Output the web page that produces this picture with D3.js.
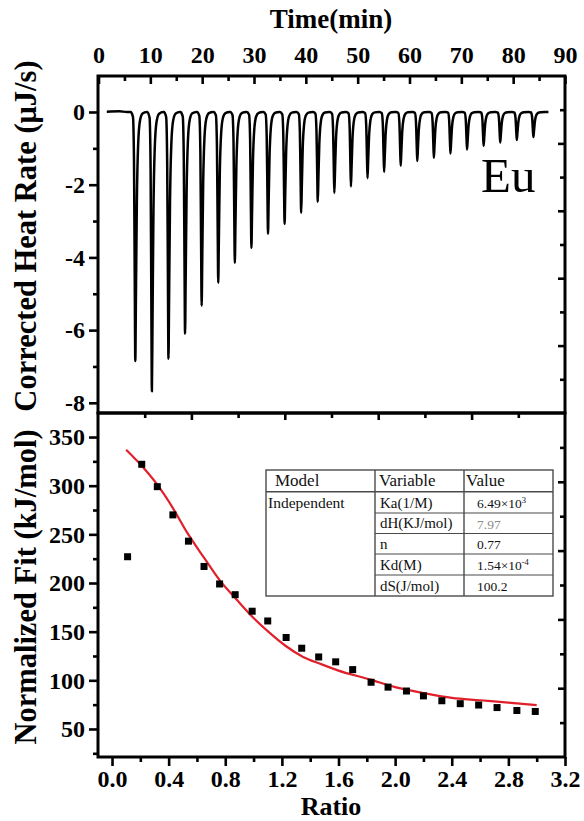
<!DOCTYPE html>
<html>
<head>
<meta charset="utf-8">
<script src="https://cdn.jsdelivr.net/npm/d3@7"></script>
<style>
  body { margin: 0; background: #fff; }
  svg text { font-family: "Liberation Serif", "Times New Roman", serif; }
</style>
</head>
<body>
<svg id="chart" width="584" height="821"></svg>
<script>
// ---- Raw thermogram: injection times (min) and peak heat rates (µJ/s) ----
const injectionTimes = [7.1, 10.3, 13.5, 16.7, 19.9, 23.1, 26.3, 29.5, 32.7, 35.9,
                        39.1, 42.3, 45.5, 48.7, 51.9, 55.1, 58.3, 61.5, 64.7, 67.9,
                        71.1, 74.3, 77.5, 80.7, 83.9];
const peakHeatRates = [-6.85, -7.68, -6.79, -6.10, -5.33, -4.70, -4.15, -3.74, -3.35, -3.08,
                       -2.77, -2.47, -2.23, -2.05, -1.82, -1.65, -1.48, -1.35, -1.26, -1.14,
                       -1.03, -0.93, -0.84, -0.77, -0.69];
const traceStart = 1.6;
const traceEnd = 86.8;

// ---- Integrated heats vs molar ratio ----
const molarRatio = [0.11, 0.21, 0.32, 0.43, 0.54, 0.65, 0.76, 0.87, 0.99, 1.10,
                    1.23, 1.34, 1.46, 1.58, 1.70, 1.83, 1.95, 2.08, 2.20, 2.33,
                    2.46, 2.59, 2.72, 2.86, 2.99];
const normalizedHeat = [227, 322, 299, 270, 243, 217, 199, 188, 171, 161,
                        144, 133, 124, 119, 111, 98, 93, 89, 84, 79,
                        76, 74.6, 72, 69, 68];

// ---- Fitted curve (independent sites model) ----
const fitRatio = [0.10, 0.20, 0.32, 0.43, 0.53, 0.65, 0.76, 0.88, 1.00, 1.12,
                  1.23, 1.35, 1.47, 1.60, 1.82, 2.00, 2.20, 2.40, 2.60, 2.80, 3.00];
const fitHeat = [337, 322, 301, 277, 252, 226, 203, 183, 164, 148,
                 135, 124, 117, 110, 101, 93, 87, 82, 79.5, 77, 74.6];

// ---- Tick values ----
const timeTicks = [0, 10, 20, 30, 40, 50, 60, 70, 80, 90];
const timeMinorTicks = [5, 15, 25, 35, 45, 55, 65, 75, 85];
const heatRateTicks = [-8, -6, -4, -2, 0];
const heatRateMinorTicks = [-7, -5, -3, -1];
const heatTicks = [50, 100, 150, 200, 250, 300, 350];
const heatMinorTicks = [25, 75, 125, 175, 225, 275, 325];
const ratioTicks = [0.0, 0.4, 0.8, 1.2, 1.6, 2.0, 2.4, 2.8, 3.2];
const ratioMinorTicks = [0.2, 0.6, 1.0, 1.4, 1.8, 2.2, 2.6, 3.0];

// ---- Fit results table ----
const tableHeader = ["Model", "Variable", "Value"];
const modelName = "Independent";
const fitVariables = ["Ka(1/M)", "dH(KJ/mol)", "n", "Kd(M)", "dS(J/mol)"];
const fitValueText = ["6.49×10", "7.97", "0.77", "1.54×10", "100.2"];
const fitValueExp = ["3", "", "", "-4", ""];
const fitValueColor = ["#111", "#8a8a8a", "#111", "#111", "#111"];

// ---- Layout ----
const svg = d3.select("#chart");
const L = 98, R = 565;
const T1 = 76, B1 = 413;   // upper panel
const T2 = 413, B2 = 757;  // lower panel

const xTime = d3.scaleLinear().domain([0, 90]).range([98.5, 565]);
const yRate = d3.scaleLinear().domain([-8.28, 0.99]).range([B1, T1]);
const xRatio = d3.scaleLinear().domain([-0.099, 3.2]).range([L, R]);
const yHeat = d3.scaleLinear().domain([21.2, 374.7]).range([B2, T2]);
const divTop = d3.scaleLinear().domain([0, 10]).range([B1, T1]);
const divBot = d3.scaleLinear().domain([0, 10]).range([B2, T2]);
const divX = d3.scaleLinear().domain([0, 10]).range([L, R]);

const tickFont = 24;

function styleAxis(g) {
  g.select(".domain").remove();
  g.selectAll(".tick line").attr("stroke", "#000").attr("stroke-width", 2.6);
  g.selectAll(".tick text")
    .attr("fill", "#000")
    .style("font-size", tickFont + "px")
    .style("font-weight", "bold");
}

// ---- Upper panel: thermogram ----
// Each injection: a sharp dip followed by a quick return to the baseline
const dipShape = [[-0.9, 0], [-0.45, 0.02], [-0.25, 0.2], [-0.1, 0.7], [0, 1],
                  [0.12, 0.75], [0.3, 0.36], [0.55, 0.13], [0.9, 0.035], [1.4, 0.006], [2.2, 0]];
const tracePts = [[traceStart, 0.01], [4.0, 0.02], [5.5, 0.0]];
injectionTimes.forEach((t, i) => {
  dipShape.forEach(([dt, f]) => tracePts.push([t + dt, peakHeatRates[i] * f]));
});
tracePts.push([traceEnd, 0]);

svg.append("path")
  .datum(tracePts)
  .attr("fill", "none")
  .attr("stroke", "#000")
  .attr("stroke-width", 2.5)
  .attr("stroke-linejoin", "round")
  .attr("d", d3.line().x(d => xTime(d[0])).y(d => yRate(d[1])).curve(d3.curveMonotoneX));

svg.append("text")
  .attr("x", 481).attr("y", 192)
  .style("font-size", "49px")
  .attr("fill", "#000")
  .text("Eu");

// Left axis (outward ticks)
svg.append("g").attr("transform", `translate(${L},0)`)
  .call(d3.axisLeft(yRate).tickValues(heatRateTicks).tickSize(9).tickPadding(4).tickFormat(d => String(d)))
  .call(styleAxis);
svg.append("g").attr("transform", `translate(${L},0)`)
  .call(d3.axisLeft(yRate).tickValues(heatRateMinorTicks).tickSize(5).tickFormat(""))
  .call(styleAxis);

// Top time axis (inward ticks, labels above)
svg.append("g").attr("transform", `translate(0,${T1})`)
  .call(d3.axisTop(xTime).tickValues(timeTicks).tickSizeInner(-8).tickSizeOuter(0).tickPadding(13).tickFormat(d => String(d)))
  .call(styleAxis);
svg.append("g").attr("transform", `translate(0,${T1})`)
  .call(d3.axisTop(xTime).tickValues(timeMinorTicks).tickSizeInner(-5).tickSizeOuter(0).tickFormat(""))
  .call(styleAxis);

// Right edge divisions (inward)
svg.append("g").attr("transform", `translate(${R},0)`)
  .call(d3.axisLeft(divTop).tickValues([2, 4, 6, 8]).tickSize(7).tickFormat(""))
  .call(styleAxis);
svg.append("g").attr("transform", `translate(${R},0)`)
  .call(d3.axisLeft(divTop).tickValues([1, 3, 5, 7, 9]).tickSize(5).tickFormat(""))
  .call(styleAxis);

// ---- Lower panel: integrated heats ----
svg.append("path")
  .datum(fitRatio.map((r, i) => [r, fitHeat[i]]))
  .attr("fill", "none")
  .attr("stroke", "#e0202a")
  .attr("stroke-width", 2.2)
  .attr("d", d3.line().x(d => xRatio(d[0])).y(d => yHeat(d[1])).curve(d3.curveMonotoneX));

const sq = 7;
svg.append("g").selectAll("rect")
  .data(molarRatio.map((r, i) => [r, normalizedHeat[i]]))
  .join("rect")
  .attr("x", d => xRatio(d[0]) - sq / 2)
  .attr("y", d => yHeat(d[1]) - sq / 2)
  .attr("width", sq).attr("height", sq)
  .attr("fill", "#000");

// Left axis
svg.append("g").attr("transform", `translate(${L},0)`)
  .call(d3.axisLeft(yHeat).tickValues(heatTicks).tickSize(9).tickPadding(4).tickFormat(d => String(d)))
  .call(styleAxis);
svg.append("g").attr("transform", `translate(${L},0)`)
  .call(d3.axisLeft(yHeat).tickValues(heatMinorTicks).tickSize(5).tickFormat(""))
  .call(styleAxis);

// Bottom ratio axis
svg.append("g").attr("transform", `translate(0,${B2})`)
  .call(d3.axisBottom(xRatio).tickValues(ratioTicks).tickSize(9).tickPadding(4).tickFormat(d3.format(".1f")))
  .call(styleAxis);
svg.append("g").attr("transform", `translate(0,${B2})`)
  .call(d3.axisBottom(xRatio).tickValues(ratioMinorTicks).tickSize(5).tickFormat(""))
  .call(styleAxis);

// Inner top edge and right edge divisions
svg.append("g").attr("transform", `translate(0,${T2})`)
  .call(d3.axisTop(divX).tickValues([2, 4, 6, 8]).tickSizeInner(-7).tickSizeOuter(0).tickFormat(""))
  .call(styleAxis);
svg.append("g").attr("transform", `translate(0,${T2})`)
  .call(d3.axisTop(divX).tickValues([1, 3, 5, 7, 9]).tickSizeInner(-5).tickSizeOuter(0).tickFormat(""))
  .call(styleAxis);
svg.append("g").attr("transform", `translate(${R},0)`)
  .call(d3.axisLeft(divBot).tickValues([2, 4, 6, 8]).tickSize(7).tickFormat(""))
  .call(styleAxis);
svg.append("g").attr("transform", `translate(${R},0)`)
  .call(d3.axisLeft(divBot).tickValues([1, 3, 5, 7, 9]).tickSize(5).tickFormat(""))
  .call(styleAxis);

// ---- Frames ----
svg.append("rect").attr("x", L).attr("y", T1).attr("width", R - L).attr("height", B1 - T1)
  .attr("fill", "none").attr("stroke", "#000").attr("stroke-width", 3);
svg.append("rect").attr("x", L).attr("y", T2).attr("width", R - L).attr("height", B2 - T2)
  .attr("fill", "none").attr("stroke", "#000").attr("stroke-width", 3);

// ---- Fit results table ----
const tb = svg.append("g");
const tx = [266, 375, 464, 553];
const ty = [470, 491.7, 513, 533.5, 554, 575, 596];
const lineCol = "#4a4a4a";
tb.append("rect").attr("x", tx[0]).attr("y", ty[0]).attr("width", tx[3] - tx[0]).attr("height", ty[6] - ty[0])
  .attr("fill", "#fff").attr("stroke", lineCol).attr("stroke-width", 1.4);
tb.append("line").attr("x1", tx[0]).attr("x2", tx[3]).attr("y1", ty[1]).attr("y2", ty[1])
  .attr("stroke", lineCol).attr("stroke-width", 1.4);
[tx[1], tx[2]].forEach(x => tb.append("line").attr("x1", x).attr("x2", x).attr("y1", ty[0]).attr("y2", ty[6])
  .attr("stroke", lineCol).attr("stroke-width", 1.4));
[2, 3, 4, 5].forEach(k => tb.append("line").attr("x1", tx[1]).attr("x2", tx[3]).attr("y1", ty[k]).attr("y2", ty[k])
  .attr("stroke", lineCol).attr("stroke-width", 1.2));

const headX = [275, 379, 466];
tableHeader.forEach((h, i) => tb.append("text").attr("x", headX[i]).attr("y", ty[1] - 5.5)
  .style("font-size", "17px").attr("fill", "#111").text(h));
tb.append("text").attr("x", 268).attr("y", ty[2] - 5.5).style("font-size", "15.5px").attr("fill", "#111").text(modelName);
fitVariables.forEach((v, i) => tb.append("text").attr("x", 380).attr("y", ty[i + 2] - 5.5)
  .style("font-size", "15px").attr("fill", "#111").text(v));
fitValueText.forEach((v, i) => {
  const t = tb.append("text").attr("x", 477).attr("y", ty[i + 2] - 5)
    .style("font-size", "13.5px").attr("fill", fitValueColor[i]).text(v);
  if (fitValueExp[i]) {
    t.append("tspan").attr("dy", -5).style("font-size", "8.5px").text(fitValueExp[i]);
  }
});

// ---- Axis titles ----
svg.append("text")
  .attr("x", 331).attr("y", 28)
  .attr("text-anchor", "middle")
  .style("font-size", "27px").style("font-weight", "bold")
  .text("Time(min)");
svg.append("text")
  .attr("x", 331).attr("y", 815)
  .attr("text-anchor", "middle")
  .style("font-size", "26px").style("font-weight", "bold")
  .text("Ratio");
svg.append("text")
  .attr("transform", "translate(36,236) rotate(-90)")
  .attr("text-anchor", "middle")
  .style("font-size", "30.5px").style("font-weight", "bold")
  .text("Corrected Heat Rate (μJ/s)");
svg.append("text")
  .attr("transform", "translate(36,587) rotate(-90)")
  .attr("text-anchor", "middle")
  .style("font-size", "30.5px").style("font-weight", "bold")
  .text("Normalized Fit (kJ/mol)");
</script>
</body>
</html>
